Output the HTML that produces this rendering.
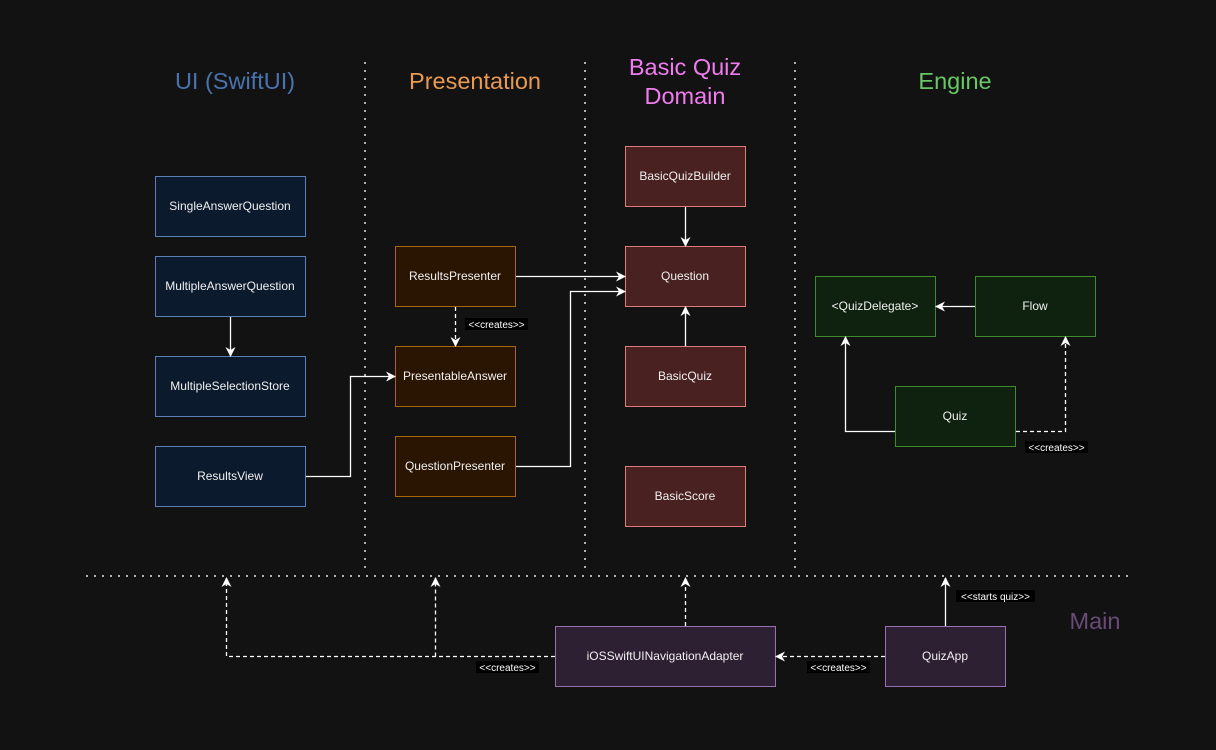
<!DOCTYPE html>
<html><head><meta charset="utf-8"><style>
html,body{margin:0;padding:0;background:#121212;}
svg{display:block;}
text{font-family:"Liberation Sans",Arial,sans-serif;}
</style></head><body>
<svg width="1216" height="750" viewBox="0 0 1216 750" xmlns="http://www.w3.org/2000/svg">
<defs>
<marker id="a" markerWidth="10" markerHeight="10" refX="9" refY="5" orient="auto" markerUnits="userSpaceOnUse">
<path d="M0,0 L10,5 L0,10 L3,5 Z" fill="#fff"/></marker>
</defs>
<rect width="1216" height="750" fill="#121212"/>
<g stroke="#e6e6e6" stroke-width="2" stroke-dasharray="0 8" stroke-linecap="round" fill="none">
<line x1="365" y1="63" x2="365" y2="575"/>
<line x1="585" y1="63" x2="585" y2="575"/>
<line x1="795" y1="63" x2="795" y2="575"/>
<line x1="87" y1="576" x2="1135" y2="576"/>
</g>
<g font-size="23.5" text-anchor="middle">
<text x="235" y="89" fill="#4a73ad">UI (SwiftUI)</text>
<text x="475" y="89" fill="#ea9a50">Presentation</text>
<text x="685" y="75" fill="#f07cf0">Basic Quiz</text>
<text x="685" y="104" fill="#f07cf0">Domain</text>
<text x="955" y="89" fill="#67c763">Engine</text>
<text x="1095" y="629" fill="#6a4a78">Main</text>
</g>
<g font-size="12" text-anchor="middle" fill="#f0f0f0">
<g fill="#0c1a2e" stroke="#5b80b8">
<rect x="155.5" y="176.5" width="150" height="60"/>
<rect x="155.5" y="256.5" width="150" height="60"/>
<rect x="155.5" y="356.5" width="150" height="60"/>
<rect x="155.5" y="446.5" width="150" height="60"/>
</g>
<text x="230" y="210">SingleAnswerQuestion</text>
<text x="230" y="290">MultipleAnswerQuestion</text>
<text x="230" y="390">MultipleSelectionStore</text>
<text x="230" y="480">ResultsView</text>
<g fill="#2a1402" stroke="#a8650a">
<rect x="395.5" y="246.5" width="120" height="60"/>
<rect x="395.5" y="346.5" width="120" height="60"/>
<rect x="395.5" y="436.5" width="120" height="60"/>
</g>
<text x="455" y="280">ResultsPresenter</text>
<text x="455" y="380">PresentableAnswer</text>
<text x="455" y="470">QuestionPresenter</text>
<g fill="#4a2121" stroke="#e07b7b">
<rect x="625.5" y="146.5" width="120" height="60"/>
<rect x="625.5" y="246.5" width="120" height="60"/>
<rect x="625.5" y="346.5" width="120" height="60"/>
<rect x="625.5" y="466.5" width="120" height="60"/>
</g>
<text x="685" y="180">BasicQuizBuilder</text>
<text x="685" y="280">Question</text>
<text x="685" y="380">BasicQuiz</text>
<text x="685" y="500">BasicScore</text>
<g fill="#0f2210" stroke="#3f8a2a">
<rect x="815.5" y="276.5" width="120" height="60"/>
<rect x="975.5" y="276.5" width="120" height="60"/>
<rect x="895.5" y="386.5" width="120" height="60"/>
</g>
<text x="875" y="310">&lt;QuizDelegate&gt;</text>
<text x="1035" y="310">Flow</text>
<text x="955" y="420">Quiz</text>
<g fill="#2e2033" stroke="#9a70b0">
<rect x="555.5" y="626.5" width="220" height="60"/>
<rect x="885.5" y="626.5" width="120" height="60"/>
</g>
<text x="665" y="660">iOSSwiftUINavigationAdapter</text>
<text x="945" y="660">QuizApp</text>
</g>
<g stroke="#fff" stroke-width="1.3" fill="none" marker-end="url(#a)">
<path d="M230.5,317 V356"/>
<path d="M306,476.5 H350.5 V376.5 H395"/>
<path d="M516,276.5 H625"/>
<path d="M516,466.5 H570.5 V291.5 H625"/>
<path d="M685.5,207 V246"/>
<path d="M685.5,346 V307"/>
<path d="M975,306.5 H936"/>
<path d="M895,431.5 H845.5 V337"/>
<path d="M945.5,626 V578"/>
</g>
<g stroke="#fff" stroke-width="1.3" fill="none" stroke-dasharray="4 3" marker-end="url(#a)">
<path d="M455.5,307 V346"/>
<path d="M1016,431.5 H1065.5 V337"/>
<path d="M555,656.5 H226.5 V578"/>
<path d="M435.5,656.5 V578"/>
<path d="M685.5,626 V578"/>
<path d="M885,656.5 H776"/>
</g>
<g font-size="10" fill="#fff" text-anchor="middle">
<rect x="465" y="318" width="63" height="12" fill="#000"/>
<text x="496.5" y="328">&lt;&lt;creates&gt;&gt;</text>
<rect x="1025" y="441" width="63" height="12" fill="#000"/>
<text x="1056.5" y="451">&lt;&lt;creates&gt;&gt;</text>
<rect x="476" y="661" width="63" height="12" fill="#000"/>
<text x="507.5" y="671">&lt;&lt;creates&gt;&gt;</text>
<rect x="807" y="661" width="63" height="12" fill="#000"/>
<text x="838.5" y="671">&lt;&lt;creates&gt;&gt;</text>
<rect x="956" y="590" width="79" height="12" fill="#000"/>
<text x="995.5" y="600">&lt;&lt;starts quiz&gt;&gt;</text>
</g>
</svg>
</body></html>
